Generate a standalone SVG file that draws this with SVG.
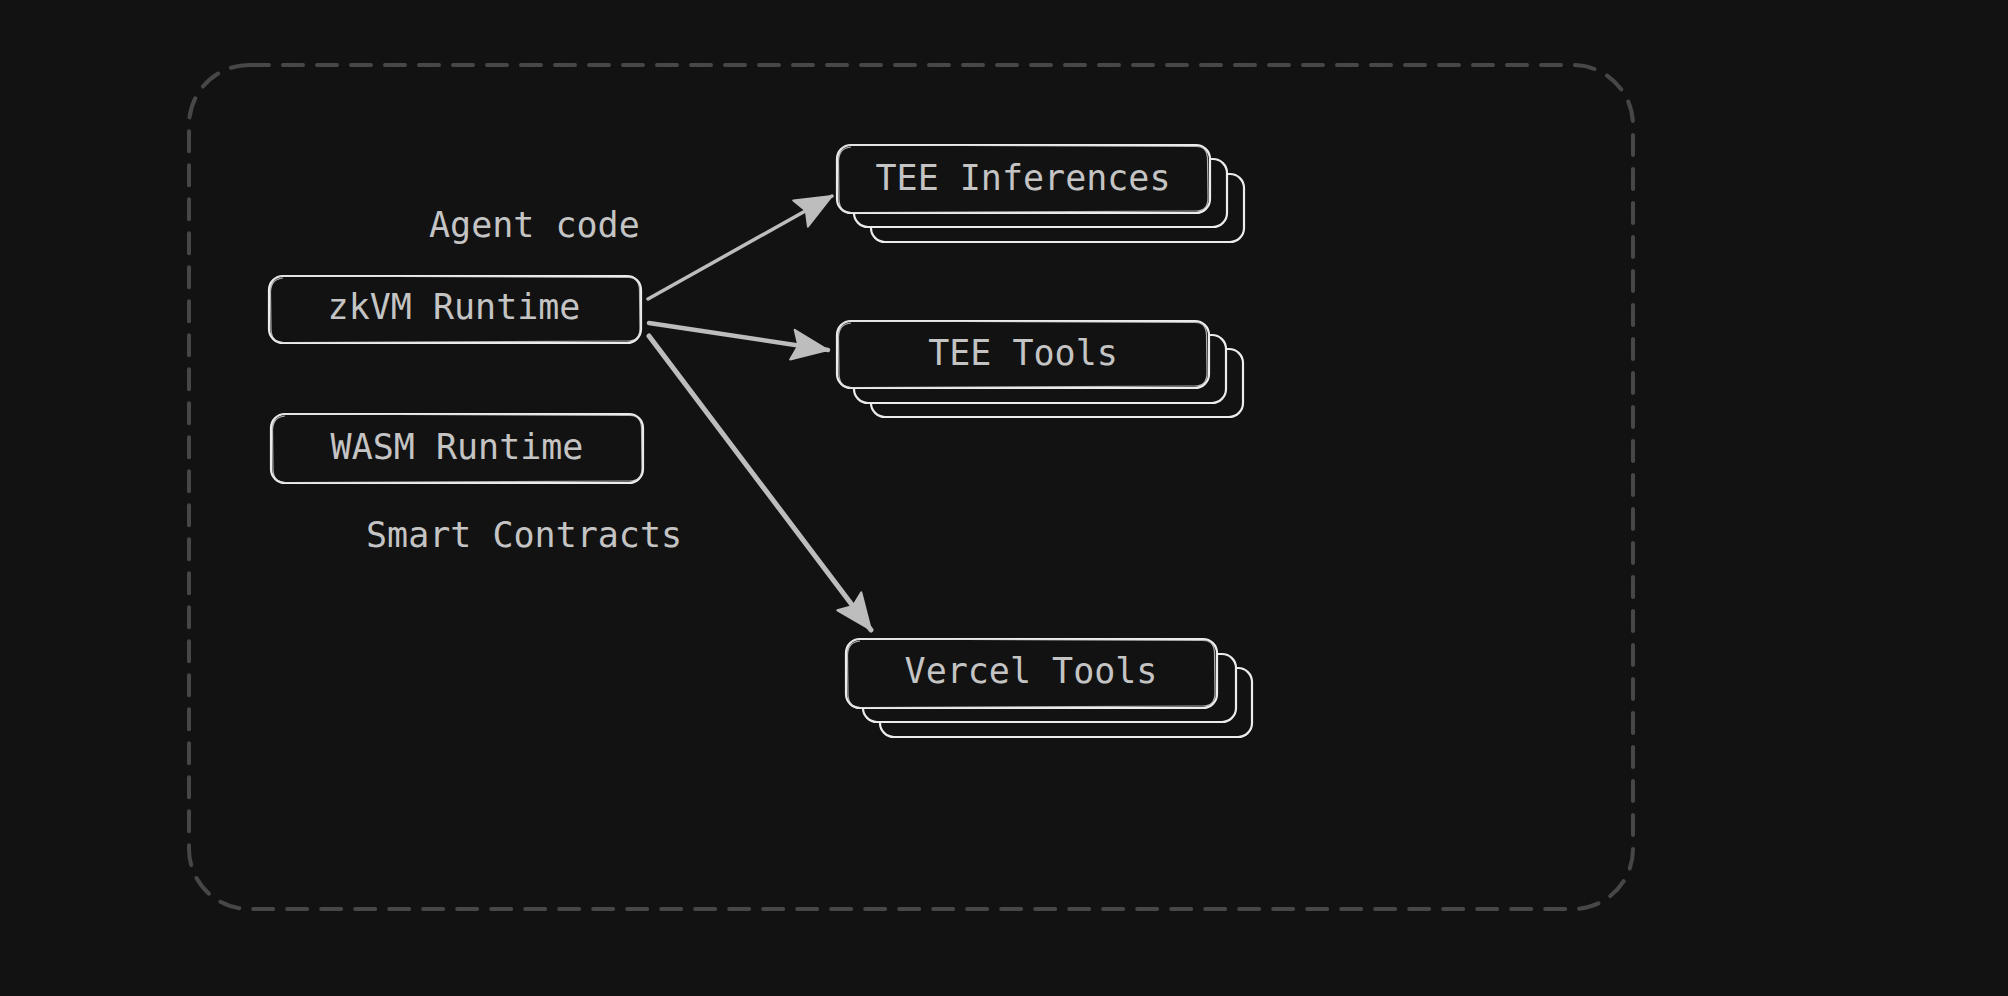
<svg xmlns="http://www.w3.org/2000/svg" width="2008" height="996" viewBox="0 0 2008 996">
  <defs>
    <style>
      .bg { fill: #121212; }
      .frame { fill: none; stroke: #474747; stroke-width: 4; stroke-dasharray: 20 14; stroke-linecap: round; }
      .box { fill: #121212; stroke: #ececec; stroke-width: 2.2; }
      .sketch { fill: none; stroke: #d8d8d8; stroke-width: 1.2; opacity: 0.8; }
      .label { font-family: "DejaVu Sans Mono", "Liberation Mono", monospace; font-size: 35px; fill: #c4c4c4; }
      .mid { text-anchor: middle; }
      .wire { fill: none; stroke: #bdbdbd; stroke-linecap: round; }
    </style>
    <marker id="head" markerUnits="userSpaceOnUse" markerWidth="46" markerHeight="46" viewBox="0 0 46 46" refX="40" refY="23" orient="auto">
      <path d="M4 8 L40 23 L4 38 L10 23 Z" fill="#bdbdbd" stroke="#bdbdbd" stroke-width="2" stroke-linejoin="round"/>
    </marker>
  </defs>

  <rect class="bg" x="0" y="0" width="2008" height="996"/>

  <!-- dashed boundary -->
  <rect class="frame" x="189" y="65" width="1444" height="844" rx="60" ry="60"/>

  <!-- free-standing labels -->
  <text class="label" x="429" y="237">Agent code</text>
  <text class="label" x="366" y="547">Smart Contracts</text>

  <!-- runtimes -->
  <g id="zkvm-runtime">
    <rect class="box" x="269" y="276" width="372" height="67" rx="14"/>
    <path class="sketch" d="M283 278 Q271 279 270.5 292 L271 330 Q272 344 286 342.5 L628 341 Q640 341 640 328 L639.5 290 Q639 276 626 277.5 L284 276 Q271 276 270 290"/>
    <text class="label mid" x="454" y="319">zkVM Runtime</text>
  </g>

  <g id="wasm-runtime">
    <rect class="box" x="271" y="414" width="372" height="69" rx="14"/>
    <path class="sketch" d="M285 416 Q273 417 272.5 430 L273 470 Q274 484 288 482.5 L630 481 Q642 481 642 468 L641.5 428 Q641 414 628 415.5 L286 414 Q273 414 272 428"/>
    <text class="label mid" x="457" y="459">WASM Runtime</text>
  </g>

  <!-- stacked service boxes -->
  <g id="tee-inferences">
    <rect class="box" x="871" y="174" width="373" height="68" rx="14"/>
    <rect class="box" x="854" y="159" width="373" height="68" rx="14"/>
    <rect class="box" x="837" y="145" width="373" height="68" rx="14"/>
    <path class="sketch" d="M851 147 Q839 148 838.5 161 L839 200 Q840 214 854 212.5 L1196 211 Q1208 211 1208 198 L1207.5 159 Q1207 145 1194 146.5 L852 145 Q839 145 838 159"/>
    <text class="label mid" x="1023" y="190">TEE Inferences</text>
  </g>

  <g id="tee-tools">
    <rect class="box" x="871" y="349" width="372" height="68" rx="14"/>
    <rect class="box" x="854" y="335" width="372" height="68" rx="14"/>
    <rect class="box" x="837" y="321" width="372" height="67" rx="14"/>
    <path class="sketch" d="M851 323 Q839 324 838.5 337 L839 375 Q840 389 854 387.5 L1195 386 Q1207 386 1207 373 L1206.5 335 Q1206 321 1193 322.5 L852 321 Q839 321 838 335"/>
    <text class="label mid" x="1023" y="365">TEE Tools</text>
  </g>

  <g id="vercel-tools">
    <rect class="box" x="880" y="668" width="372" height="69" rx="14"/>
    <rect class="box" x="863" y="654" width="373" height="68" rx="14"/>
    <rect class="box" x="846" y="639" width="371" height="69" rx="14"/>
    <path class="sketch" d="M860 641 Q848 642 847.5 655 L848 695 Q849 709 863 707.5 L1203 706 Q1215 706 1215 693 L1214.5 653 Q1214 639 1201 640.5 L861 639 Q848 639 847 653"/>
    <text class="label mid" x="1031" y="683">Vercel Tools</text>
  </g>

  <!-- connectors -->
  <g id="connectors">
    <line class="wire" x1="648" y1="299" x2="832" y2="196" stroke-width="3.5" marker-end="url(#head)"/>
    <line class="wire" x1="649" y1="323" x2="828" y2="350" stroke-width="4.5" marker-end="url(#head)"/>
    <line class="wire" x1="649" y1="336" x2="871" y2="630" stroke-width="5" marker-end="url(#head)"/>
  </g>
</svg>
